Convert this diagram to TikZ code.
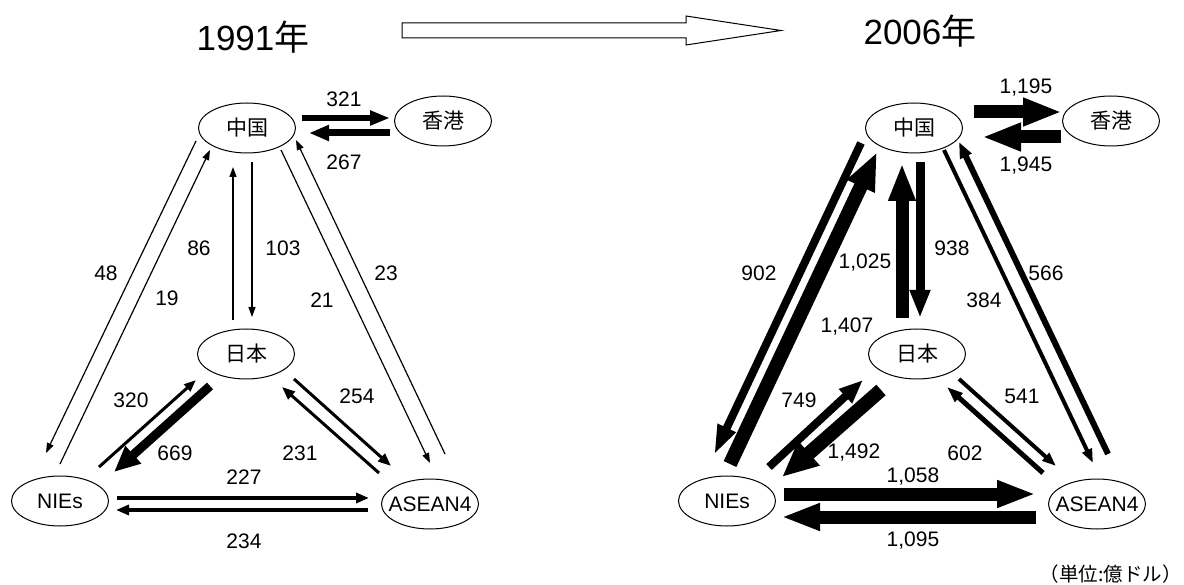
\documentclass[tikz,border=0pt]{standalone}
\usepackage{fontspec}
\setmainfont{Liberation Sans}
\newfontfamily\cjk{Noto Sans CJK JP}
\usetikzlibrary{arrows.meta,shapes.geometric}

\begin{document}
\begin{tikzpicture}[x=1pt, y=-1pt,
  country/.style={draw, ellipse, line width=1pt, minimum width=97pt, minimum height=50pt, inner sep=0pt, font=\fontsize{21}{24}\selectfont},
  val/.style={inner sep=0pt, font=\fontsize{21}{24}\selectfont},
  year/.style={inner sep=0pt, font=\fontsize{35}{40}\selectfont},
  flow/.style n args={3}{line width=#1, -{Triangle[length=#2, width=#3]}},
  thinflow/.style={flow={1.2pt}{10pt}{7pt}}
]
\useasboundingbox (0,0) rectangle (1184,585);

\node[year] (y91) at (253,37) {1991{\cjk 年}};
\node[year] (y06) at (920,31) {2006{\cjk 年}};
\draw[line width=1pt, fill=white] (402,23) -- (686,23) -- (686,16) -- (781,30.5) -- (686,45) -- (686,38) -- (402,38) -- cycle;

\node[country] (cnL) at (247,128) {\cjk 中国};
\node[country] (hkL) at (443,121) {\cjk 香港};
\node[country] (jpL) at (246,354) {\cjk 日本};
\node[country] (nieL) at (60,501) {NIEs};
\node[country] (aseL) at (430,504) {\makebox[0pt]{ASEAN4}};

\draw[flow={6pt}{20pt}{14pt}] ([shift={(55,-10)}]cnL.center) -- ([shift={(-53,-3)}]hkL.center);
\draw[flow={7pt}{20pt}{15pt}] ([shift={(-53,12)}]hkL.center) -- ([shift={(62,5)}]cnL.center);
\draw[thinflow] ([shift={(-51,13)}]cnL.center) -- ([shift={(-14,-48)}]nieL.center);
\draw[thinflow] ([shift={(0,-37)}]nieL.center) -- ([shift={(-37,22)}]cnL.center);
\draw[thinflow] ([shift={(-13,-34)}]jpL.center) -- ([shift={(-14,39)}]cnL.center);
\draw[thinflow] ([shift={(5,34)}]cnL.center) -- ([shift={(6,-37)}]jpL.center);
\draw[thinflow] ([shift={(34,22)}]cnL.center) -- ([shift={(0,-41)}]aseL.center);
\draw[thinflow] ([shift={(15,-50)}]aseL.center) -- ([shift={(49,12)}]cnL.center);
\draw[flow={9pt}{26pt}{22pt}] ([shift={(-36,32)}]jpL.center) -- ([shift={(54,-29)}]nieL.center);
\draw[flow={3pt}{12pt}{9pt}] ([shift={(39,-34)}]nieL.center) -- ([shift={(-50,26)}]jpL.center);
\draw[flow={3pt}{13pt}{10pt}] ([shift={(48,25)}]jpL.center) -- ([shift={(-39,-38)}]aseL.center);
\draw[flow={3pt}{13pt}{10pt}] ([shift={(-51,-31)}]aseL.center) -- ([shift={(36,33)}]jpL.center);
\draw[flow={4pt}{13pt}{10pt}] ([shift={(57,-3)}]nieL.center) -- ([shift={(-61,-6)}]aseL.center);
\draw[flow={4pt}{13pt}{10pt}] ([shift={(-62,6)}]aseL.center) -- ([shift={(56,9)}]nieL.center);

\node[val] (v321) at (344,99) {321};
\node[val] (v267) at (344,162) {267};
\node[val] (v48) at (106,273) {48};
\node[val] (v86) at (199,248) {86};
\node[val] (v19) at (167,298) {19};
\node[val] (v103) at (283,248) {103};
\node[val] (v23) at (386,273) {23};
\node[val] (v21) at (322,300) {21};
\node[val] (v320) at (131,400) {320};
\node[val] (v669) at (175,453) {669};
\node[val] (v254) at (357,396) {254};
\node[val] (v231) at (300,453) {231};
\node[val] (v227) at (244,477) {227};
\node[val] (v234) at (244,541) {234};

\node[country] (cnR) at (914,128) {\cjk 中国};
\node[country] (hkR) at (1111,121) {\cjk 香港};
\node[country] (jpR) at (917,354) {\cjk 日本};
\node[country] (nieR) at (727,501) {NIEs};
\node[country] (aseR) at (1097,504) {\makebox[0pt]{ASEAN4}};

\draw[flow={13pt}{39pt}{26pt}] ([shift={(60,-16)}]cnR.center) -- ([shift={(-49,-9)}]hkR.center);
\draw[flow={13pt}{39pt}{26pt}] ([shift={(-50,16)}]hkR.center) -- ([shift={(68,9)}]cnR.center);
\draw[flow={8pt}{30pt}{18pt}] ([shift={(-53,15)}]cnR.center) -- ([shift={(-13,-46)}]nieR.center);
\draw[flow={14pt}{38pt}{28pt}] ([shift={(3,-37)}]nieR.center) -- ([shift={(-37,24)}]cnR.center);
\draw[flow={13pt}{38pt}{25pt}] ([shift={(-15,-36)}]jpR.center) -- ([shift={(-12,35)}]cnR.center);
\draw[flow={9pt}{28pt}{19pt}] ([shift={(6,34)}]cnR.center) -- ([shift={(3,-36)}]jpR.center);
\draw[flow={4pt}{14pt}{10pt}] ([shift={(30,22)}]cnR.center) -- ([shift={(-4,-41)}]aseR.center);
\draw[flow={6pt}{16pt}{12pt}] ([shift={(11,-50)}]aseR.center) -- ([shift={(45,14)}]cnR.center);
\draw[flow={14pt}{36pt}{30pt}] ([shift={(-36,36)}]jpR.center) -- ([shift={(55,-24)}]nieR.center);
\draw[flow={8pt}{24pt}{18pt}] ([shift={(42,-34)}]nieR.center) -- ([shift={(-54,26)}]jpR.center);
\draw[flow={4pt}{14pt}{10pt}] ([shift={(42,25)}]jpR.center) -- ([shift={(-41,-38)}]aseR.center);
\draw[flow={5pt}{16pt}{11pt}] ([shift={(-54,-31)}]aseR.center) -- ([shift={(30,33)}]jpR.center);
\draw[flow={13pt}{39pt}{25pt}] ([shift={(57,-7)}]nieR.center) -- ([shift={(-61,-10)}]aseR.center);
\draw[flow={13pt}{39pt}{25pt}] ([shift={(-61,13)}]aseR.center) -- ([shift={(54,16)}]nieR.center);

\node[val] (v1195) at (1026,88) {1,195};
\node[val] (v1945) at (1026,166) {1,945};
\node[val] (v902) at (759,273) {902};
\node[val] (v1407) at (847,327) {1,407};
\node[val] (v1025) at (865,263) {1,025};
\node[val] (v938) at (952,248) {938};
\node[val] (v566) at (1046,273) {566};
\node[val] (v384) at (984,300) {384};
\node[val] (v749) at (799,400) {749};
\node[val] (v1492) at (854,453) {1,492};
\node[val] (v541) at (1022,396) {541};
\node[val] (v602) at (965,453) {602};
\node[val] (v1058) at (913,477) {1,058};
\node[val] (v1095) at (913,541) {1,095};

\node[anchor=east, inner sep=0pt, font=\fontsize{19.5}{22}\selectfont\cjk] (unit) at (1182,574) {（単位:億ドル）};
\end{tikzpicture}
\end{document}
